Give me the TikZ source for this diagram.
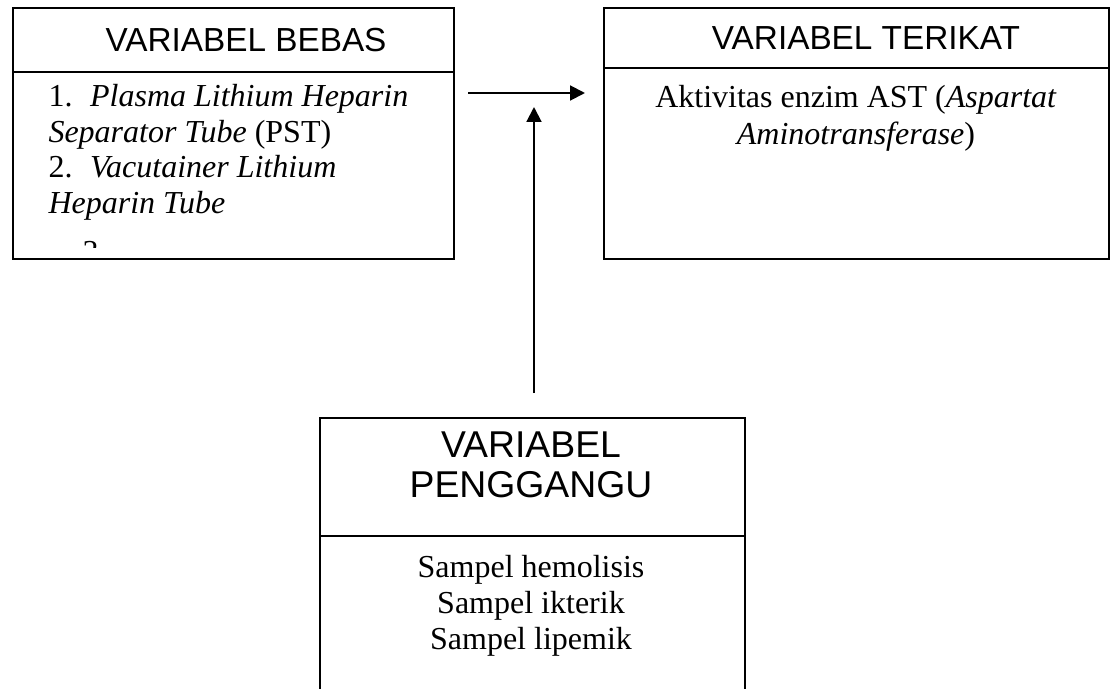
\documentclass[tikz,border=0pt]{standalone}
\usepackage{fontspec}
\setmainfont{Liberation Serif}
\newfontfamily\arialfont{Liberation Sans}
\usetikzlibrary{arrows.meta}
\begin{document}
\begin{tikzpicture}[x=0.375pt,y=-0.375pt,
  box/.style={draw, line width=0.75pt, inner sep=0pt, anchor=north west},
  divider/.style={line width=0.75pt},
  head/.style={font=\arialfont\fontsize{12.5}{14.4}\selectfont, inner sep=0pt, anchor=base},
  headbig/.style={head, font=\arialfont\fontsize{14}{16.1}\selectfont},
  body/.style={font=\fontsize{12}{13.8}\selectfont, inner sep=0pt, anchor=base},
  bodyl/.style={body, anchor=base west},
  arr/.style={line width=0.75pt, -{Triangle[length=5.6pt,width=5.6pt]}}]
\useasboundingbox (0,0) rectangle (1113,689);
% boxes
\node[box, minimum width=165.375pt, minimum height=94.125pt] (bebas) at (12,7) {};
\node[box, minimum width=189.375pt, minimum height=94.125pt] (terikat) at (603,7) {};
\node[box, minimum width=159.375pt, minimum height=109.875pt] (ganggu) at (319,417) {};
% dividers
\draw[divider] (12,72) -- (453,72);
\draw[divider] (603,68) -- (1108,68);
\draw[divider] (319,536) -- (744,536);
% headers
\node[head] (hb) at (246,51) {VARIABEL BEBAS};
\node[head] (ht) at (866,50) {VARIABEL TERIKAT};
\node[headbig] (hp1) at (531,457) {VARIABEL};
\node[headbig] (hp2) at (531,497) {PENGGANGU};
% left body
\node[bodyl] (b1) at (48,106) {1.\hspace{0.55em}\textit{Plasma Lithium Heparin}};
\node[bodyl] (b2) at (48,142) {\textit{Separator Tube} (PST)};
\node[bodyl] (b3) at (48,178) {2.\hspace{0.55em}\textit{Vacutainer Lithium}};
\node[bodyl] (b4) at (48,214) {\textit{Heparin Tube}};
\begin{scope}
\clip (12,72) rectangle (453,247);
\node[bodyl] (b5) at (82,262) {3.};
\end{scope}
% right body
\node[body] (t1) at (856,107) {Aktivitas enzim AST (\textit{Aspartat}};
\node[body] (t2) at (856,144) {\textit{Aminotransferase})};
% bottom body
\node[body] (g1) at (531,577) {Sampel hemolisis};
\node[body] (g2) at (531,613) {Sampel ikterik};
\node[body] (g3) at (531,649) {Sampel lipemik};
% arrows
\coordinate (h1) at (468,93);
\coordinate (h2) at (585,93);
\draw[arr] (h1) -- (h2);
\coordinate (v1) at (534,393);
\coordinate (v2) at (534,107);
\draw[arr] (v1) -- (v2);
\end{tikzpicture}
\end{document}
